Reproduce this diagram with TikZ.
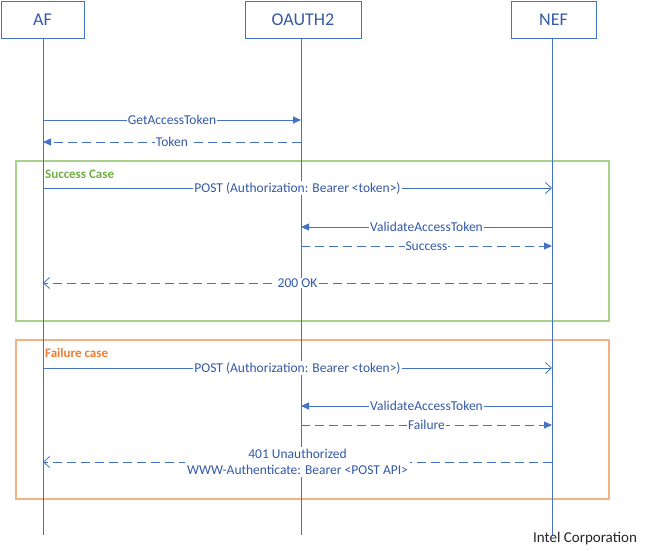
\documentclass[tikz,border=0pt]{standalone}
\usepackage{fontspec}
\setmainfont{Carlito}
\usetikzlibrary{arrows.meta}
\definecolor{lineblue}{HTML}{4472C4}
\definecolor{textblue}{HTML}{3459A8}
\definecolor{grnframe}{HTML}{A9D18E}
\definecolor{grntext}{HTML}{70AD47}
\definecolor{orframe}{HTML}{F4B183}
\definecolor{ortext}{HTML}{ED7D31}
\tikzset{
  actor/.style={draw=lineblue, line width=0.8pt, minimum height=37pt, inner sep=0pt, text=textblue, font=\fontsize{18}{20}\selectfont},
  lifeline/.style={draw=lineblue, line width=0.9pt},
  msg/.style={draw=lineblue, line width=0.8pt},
  sync/.style={msg, -{Triangle[length=8pt,width=7pt]}},
  reply/.style={msg, dash pattern=on 9pt off 5pt, -{Triangle[length=8pt,width=7pt]}},
  asyncmsg/.style={msg, -{Straight Barb[length=6pt,width=11pt]}},
  asyncreply/.style={msg, dash pattern=on 9pt off 5pt, -{Straight Barb[length=6pt,width=11pt]}},
  lbl/.style={fill=white, inner sep=1pt, text=textblue, font=\fontsize{13.5}{16}\selectfont},
  grpframe/.style={line width=1.3pt},
  grplbl/.style={anchor=west, inner sep=0pt, font=\bfseries\fontsize{13}{15}\selectfont}
}
\begin{document}
\begin{tikzpicture}[x=1pt,y=-1pt]
\useasboundingbox (0,0) rectangle (651,550);
% group frames
\draw[grpframe, draw=grnframe] (16,161) rectangle (609,321);
\draw[grpframe, draw=orframe] (16,340) rectangle (609,499);
% actors
\node[actor, minimum width=83pt] (AF) at (42.5,19.5) {AF};
\node[actor, minimum width=116pt] (OA) at (303,19.5) {OAUTH2};
\node[actor, minimum width=85pt] (NEF) at (553.5,19.5) {NEF};
% lifeline ends
\coordinate (AFe) at (43,535);
\coordinate (OAe) at (301,535);
\coordinate (NEFe) at (552,535);
\draw[lifeline] (AF.south -| AFe) -- (AFe);
\draw[lifeline] (OA.south -| OAe) -- (OAe);
\draw[lifeline] (NEF.south -| NEFe) -- (NEFe);
% group labels
\node[grplbl, text=grntext] (gs) at (45,174) {Success Case};
\node[grplbl, text=ortext] (gf) at (45,353) {Failure case};
% messages
\draw[sync] (AFe |- 0,120) -- node[lbl] {GetAccessToken} (OAe |- 0,120);
\draw[reply] (OAe |- 0,142) -- node[lbl] {Token} (AFe |- 0,142);
\draw[asyncmsg] (AFe |- 0,188) -- node[lbl] {POST (Authorization: Bearer <token>)} (NEFe |- 0,188);
\draw[sync] (NEFe |- 0,227) -- node[lbl] {ValidateAccessToken} (OAe |- 0,227);
\draw[reply] (OAe |- 0,246) -- node[lbl] {Success} (NEFe |- 0,246);
\draw[asyncreply] (NEFe |- 0,283) -- node[lbl] {200 OK} (AFe |- 0,283);
\draw[asyncmsg] (AFe |- 0,368) -- node[lbl] {POST (Authorization: Bearer <token>)} (NEFe |- 0,368);
\draw[sync] (NEFe |- 0,406) -- node[lbl] {ValidateAccessToken} (OAe |- 0,406);
\draw[reply] (OAe |- 0,425) -- node[lbl] {Failure} (NEFe |- 0,425);
\draw[asyncreply] (NEFe |- 0,462) -- node[lbl, align=center, inner sep=2pt, font=\fontsize{13.5}{16}\selectfont] {401 Unauthorized\\WWW-Authenticate: Bearer <POST API>} (AFe |- 0,462);
% footer
\node[anchor=west, inner sep=0pt, text=black!85, font=\fontsize{15}{17}\selectfont] (intel) at (533,538) {Intel Corporation};
\end{tikzpicture}
\end{document}
